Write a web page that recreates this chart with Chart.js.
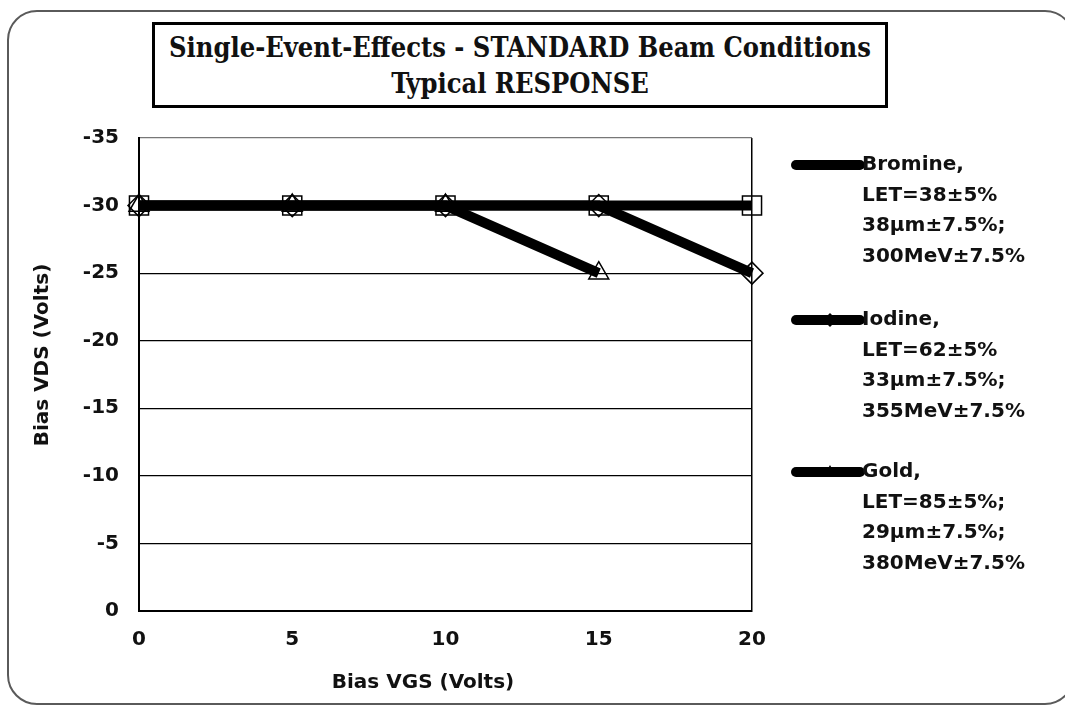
<!DOCTYPE html>
<html>
<head>
<meta charset="utf-8">
<script src="https://cdn.jsdelivr.net/npm/chart.js@4/dist/chart.umd.min.js"></script>
<style>
  html, body { margin: 0; padding: 0; background: #fff; }
  #wrap { position: relative; width: 1065px; height: 705px; overflow: hidden; }
  #frame {
    position: absolute; left: 7px; top: 10px; width: 1068px; height: 695px;
    border: 2px solid #5a5a5a; border-radius: 30px; box-sizing: border-box;
  }
  #chart { position: absolute; left: 0; top: 0; }
  #title {
    position: absolute; left: 152px; top: 22px; width: 736px; height: 86px;
    border: 3px solid #000; box-sizing: border-box; background: #fff;
    font-family: "DejaVu Serif Condensed", "Liberation Serif", serif; font-weight: bold;
    font-size: 27px; line-height: 36px; text-align: center; color: #111;
    padding-top: 5px;
  }
</style>
</head>
<body>
<div id="wrap">
  <div id="frame"></div>
  <canvas id="chart" width="1065" height="705"></canvas>
  <div id="title">Single-Event-Effects - STANDARD Beam Conditions<br>Typical RESPONSE</div>
</div>
<script>
const vgsValues = [0, 5, 10, 15, 20];
const bromineVds = [-30, -30, -30, -30, -30];
const iodineVds = [-30, -30, -30, -30, -25];
const goldVds = [-30, -30, -30, -25];

const yTicks = [-35, -30, -25, -20, -15, -10, -5, 0];

const bromineLabel = ['Bromine,', 'LET=38±5%', '38µm±7.5%;', '300MeV±7.5%'];
const iodineLabel = ['Iodine,', 'LET=62±5%', '33µm±7.5%;', '355MeV±7.5%'];
const goldLabel = ['Gold,', 'LET=85±5%;', '29µm±7.5%;', '380MeV±7.5%'];

const xTitle = 'Bias VGS (Volts)';
const yTitle = 'Bias VDS (Volts)';

const fontFamily = 'DejaVu Sans, Liberation Sans, Arial, sans-serif';
const tickFont = { family: fontFamily, size: 20, weight: 'bold' };

function toPoints(values) {
    return values.map((v, i) => ({ x: vgsValues[i], y: v }));
}

function series(label, values, style, radius) {
    return {
        label: label,
        data: toPoints(values),
        borderColor: '#000',
        borderWidth: 10,
        tension: 0,
        pointStyle: style,
        pointRadius: radius,
        pointBorderWidth: 1.5,
        pointBorderColor: '#000',
        pointBackgroundColor: 'rgba(255,255,255,0)',
        clip: false
    };
}

// legend and axis titles drawn by hand: four-line entries, titles placed like the original
const sideLegend = {
    id: 'sideLegend',
    afterDraw(chart) {
        const ctx = chart.ctx;
        const tops = [165, 320, 472];
        ctx.save();
        chart.data.datasets.forEach((ds, i) => {
            const y = tops[i];
            ctx.strokeStyle = '#000';
            ctx.lineWidth = 10;
            ctx.lineCap = 'round';
            ctx.beginPath();
            ctx.moveTo(796, y);
            ctx.lineTo(860, y);
            ctx.stroke();
            ctx.fillStyle = '#000';
            ctx.lineWidth = 1;
            Chart.helpers.drawPoint(ctx, { pointStyle: ds.pointStyle, radius: 7, rotation: 0 }, 830, y);
            ctx.fillStyle = '#111';
            ctx.font = 'bold 20px ' + fontFamily;
            ctx.textBaseline = 'middle';
            ctx.textAlign = 'left';
            ds.label.forEach((line, j) => {
                ctx.fillText(line, 862, y + j * 30.5);
            });
        });

        ctx.font = 'bold 20px ' + fontFamily;
        ctx.fillStyle = '#111';
        ctx.textAlign = 'center';
        ctx.textBaseline = 'middle';
        ctx.fillText(xTitle, 423, 683);
        ctx.translate(43, 355);
        ctx.rotate(-Math.PI / 2);
        ctx.fillText(yTitle, 0, 0);
        ctx.restore();
    }
};

new Chart(document.getElementById('chart'), {
    type: 'line',
    data: {
        datasets: [
            series(bromineLabel, bromineVds, 'rect', 13.5),
            series(iodineLabel, iodineVds, 'rectRot', 11),
            series(goldLabel, goldVds, 'triangle', 11.5)
        ]
    },
    options: {
        responsive: false,
        animation: false,
        layout: { padding: { left: 32, top: 138, right: 313, bottom: 10 } },
        plugins: {
            legend: { display: false },
            tooltip: { enabled: false }
        },
        scales: {
            x: {
                type: 'linear',
                min: 0,
                max: 20,
                afterFit(scale) { scale.height = 84; },
                ticks: { stepSize: 5, color: '#111', font: tickFont, padding: 17 },
                grid: {
                    drawTicks: false,
                    color: ctx => ctx.tick && ctx.tick.value === 20 ? '#000' : 'rgba(0,0,0,0)',
                    lineWidth: 1.5
                },
                border: { color: '#000', width: 2 }
            },
            y: {
                reverse: true,
                min: -35,
                max: 0,
                afterFit(scale) { scale.width = 107; },
                afterBuildTicks(scale) { scale.ticks = yTicks.map(v => ({ value: v })); },
                ticks: { color: '#111', font: tickFont, padding: 20 },
                grid: {
                    drawTicks: false,
                    color: ctx => ctx.tick && ctx.tick.value === -35 ? '#777' : '#000',
                    lineWidth: 1.2
                },
                border: { color: '#000', width: 2 }
            }
        }
    },
    plugins: [sideLegend]
});
</script>
</body>
</html>
